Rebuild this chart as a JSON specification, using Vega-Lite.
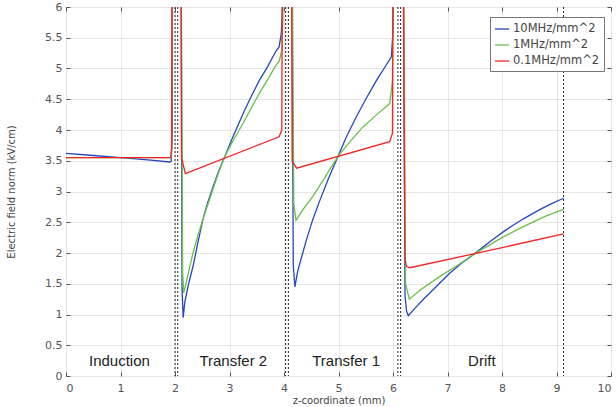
{
  "$schema": "https://vega.github.io/schema/vega-lite/v6.json",
  "width": 545,
  "height": 369,
  "autosize": "none",
  "padding": {"left": 66, "top": 7, "right": 5, "bottom": 31},
  "background": "white",
  "config": {
    "font": "DejaVu Sans",
    "view": {"stroke": "#444", "strokeWidth": 1},
    "axis": {"labelFont": "DejaVu Sans", "labelFontSize": 11, "labelColor": "#555", "titleFont": "DejaVu Sans", "titleFontSize": 10, "titleColor": "#444", "titleFontWeight": "normal", "gridColor": "#e6e6e6", "domain": false, "tickColor": "#555"}
  },
  "datasets": {
    "curves": [
      {"z": 0, "E": 3.62, "s": "10MHz/mm^2"},
      {"z": 0.5, "E": 3.585, "s": "10MHz/mm^2"},
      {"z": 1, "E": 3.55, "s": "10MHz/mm^2"},
      {"z": 1.5, "E": 3.515, "s": "10MHz/mm^2"},
      {"z": 1.9, "E": 3.48, "s": "10MHz/mm^2"},
      {"z": 1.93, "E": 3.49, "s": "10MHz/mm^2"},
      {"z": 1.95, "E": 4.0, "s": "10MHz/mm^2"},
      {"z": 1.96, "E": 10, "s": "10MHz/mm^2"},
      {"z": 2.1, "E": 10, "s": "10MHz/mm^2"},
      {"z": 2.13, "E": 1.4, "s": "10MHz/mm^2"},
      {"z": 2.15, "E": 0.95, "s": "10MHz/mm^2"},
      {"z": 2.18, "E": 1.2, "s": "10MHz/mm^2"},
      {"z": 2.25, "E": 1.5, "s": "10MHz/mm^2"},
      {"z": 2.33, "E": 1.78, "s": "10MHz/mm^2"},
      {"z": 2.42, "E": 2.17, "s": "10MHz/mm^2"},
      {"z": 2.51, "E": 2.54, "s": "10MHz/mm^2"},
      {"z": 2.6, "E": 2.82, "s": "10MHz/mm^2"},
      {"z": 2.7, "E": 3.08, "s": "10MHz/mm^2"},
      {"z": 2.8, "E": 3.33, "s": "10MHz/mm^2"},
      {"z": 2.91, "E": 3.56, "s": "10MHz/mm^2"},
      {"z": 3.05, "E": 3.86, "s": "10MHz/mm^2"},
      {"z": 3.25, "E": 4.27, "s": "10MHz/mm^2"},
      {"z": 3.4, "E": 4.55, "s": "10MHz/mm^2"},
      {"z": 3.55, "E": 4.81, "s": "10MHz/mm^2"},
      {"z": 3.7, "E": 5.03, "s": "10MHz/mm^2"},
      {"z": 3.85, "E": 5.28, "s": "10MHz/mm^2"},
      {"z": 3.91, "E": 5.35, "s": "10MHz/mm^2"},
      {"z": 3.95, "E": 5.57, "s": "10MHz/mm^2"},
      {"z": 3.97, "E": 5.9, "s": "10MHz/mm^2"},
      {"z": 3.99, "E": 10, "s": "10MHz/mm^2"},
      {"z": 4.13, "E": 10, "s": "10MHz/mm^2"},
      {"z": 4.17, "E": 1.8, "s": "10MHz/mm^2"},
      {"z": 4.2, "E": 1.45, "s": "10MHz/mm^2"},
      {"z": 4.25, "E": 1.7, "s": "10MHz/mm^2"},
      {"z": 4.41, "E": 2.21, "s": "10MHz/mm^2"},
      {"z": 4.53, "E": 2.55, "s": "10MHz/mm^2"},
      {"z": 4.66, "E": 2.86, "s": "10MHz/mm^2"},
      {"z": 4.82, "E": 3.22, "s": "10MHz/mm^2"},
      {"z": 4.99, "E": 3.57, "s": "10MHz/mm^2"},
      {"z": 5.15, "E": 3.9, "s": "10MHz/mm^2"},
      {"z": 5.33, "E": 4.22, "s": "10MHz/mm^2"},
      {"z": 5.5, "E": 4.5, "s": "10MHz/mm^2"},
      {"z": 5.7, "E": 4.81, "s": "10MHz/mm^2"},
      {"z": 5.85, "E": 5.02, "s": "10MHz/mm^2"},
      {"z": 5.97, "E": 5.19, "s": "10MHz/mm^2"},
      {"z": 6.0, "E": 5.6, "s": "10MHz/mm^2"},
      {"z": 6.02, "E": 10, "s": "10MHz/mm^2"},
      {"z": 6.17, "E": 10, "s": "10MHz/mm^2"},
      {"z": 6.22, "E": 1.3, "s": "10MHz/mm^2"},
      {"z": 6.25, "E": 1.05, "s": "10MHz/mm^2"},
      {"z": 6.28, "E": 0.98, "s": "10MHz/mm^2"},
      {"z": 6.4, "E": 1.1, "s": "10MHz/mm^2"},
      {"z": 6.55, "E": 1.24, "s": "10MHz/mm^2"},
      {"z": 6.8, "E": 1.46, "s": "10MHz/mm^2"},
      {"z": 7.04, "E": 1.67, "s": "10MHz/mm^2"},
      {"z": 7.25, "E": 1.83, "s": "10MHz/mm^2"},
      {"z": 7.5, "E": 1.99, "s": "10MHz/mm^2"},
      {"z": 7.8, "E": 2.2, "s": "10MHz/mm^2"},
      {"z": 8.08, "E": 2.38, "s": "10MHz/mm^2"},
      {"z": 8.4, "E": 2.56, "s": "10MHz/mm^2"},
      {"z": 8.7, "E": 2.71, "s": "10MHz/mm^2"},
      {"z": 8.9, "E": 2.8, "s": "10MHz/mm^2"},
      {"z": 9.13, "E": 2.89, "s": "10MHz/mm^2"},

      {"z": 0, "E": 3.55, "s": "1MHz/mm^2"},
      {"z": 1, "E": 3.55, "s": "1MHz/mm^2"},
      {"z": 1.93, "E": 3.55, "s": "1MHz/mm^2"},
      {"z": 1.94, "E": 3.7, "s": "1MHz/mm^2"},
      {"z": 1.96, "E": 10, "s": "1MHz/mm^2"},
      {"z": 2.1, "E": 10, "s": "1MHz/mm^2"},
      {"z": 2.14, "E": 1.7, "s": "1MHz/mm^2"},
      {"z": 2.16, "E": 1.35, "s": "1MHz/mm^2"},
      {"z": 2.2, "E": 1.5, "s": "1MHz/mm^2"},
      {"z": 2.33, "E": 2.0, "s": "1MHz/mm^2"},
      {"z": 2.42, "E": 2.28, "s": "1MHz/mm^2"},
      {"z": 2.51, "E": 2.54, "s": "1MHz/mm^2"},
      {"z": 2.6, "E": 2.78, "s": "1MHz/mm^2"},
      {"z": 2.7, "E": 3.05, "s": "1MHz/mm^2"},
      {"z": 2.8, "E": 3.31, "s": "1MHz/mm^2"},
      {"z": 2.91, "E": 3.56, "s": "1MHz/mm^2"},
      {"z": 3.05, "E": 3.8, "s": "1MHz/mm^2"},
      {"z": 3.25, "E": 4.11, "s": "1MHz/mm^2"},
      {"z": 3.4, "E": 4.36, "s": "1MHz/mm^2"},
      {"z": 3.55, "E": 4.6, "s": "1MHz/mm^2"},
      {"z": 3.7, "E": 4.82, "s": "1MHz/mm^2"},
      {"z": 3.85, "E": 5.05, "s": "1MHz/mm^2"},
      {"z": 3.91, "E": 5.11, "s": "1MHz/mm^2"},
      {"z": 3.96, "E": 5.3, "s": "1MHz/mm^2"},
      {"z": 3.98, "E": 5.8, "s": "1MHz/mm^2"},
      {"z": 3.99, "E": 10, "s": "1MHz/mm^2"},
      {"z": 4.13, "E": 10, "s": "1MHz/mm^2"},
      {"z": 4.18, "E": 2.8, "s": "1MHz/mm^2"},
      {"z": 4.22, "E": 2.53, "s": "1MHz/mm^2"},
      {"z": 4.35, "E": 2.71, "s": "1MHz/mm^2"},
      {"z": 4.53, "E": 2.92, "s": "1MHz/mm^2"},
      {"z": 4.75, "E": 3.23, "s": "1MHz/mm^2"},
      {"z": 4.99, "E": 3.57, "s": "1MHz/mm^2"},
      {"z": 5.2, "E": 3.8, "s": "1MHz/mm^2"},
      {"z": 5.45, "E": 4.05, "s": "1MHz/mm^2"},
      {"z": 5.7, "E": 4.25, "s": "1MHz/mm^2"},
      {"z": 5.94, "E": 4.43, "s": "1MHz/mm^2"},
      {"z": 5.99, "E": 4.8, "s": "1MHz/mm^2"},
      {"z": 6.02, "E": 10, "s": "1MHz/mm^2"},
      {"z": 6.17, "E": 10, "s": "1MHz/mm^2"},
      {"z": 6.23, "E": 1.5, "s": "1MHz/mm^2"},
      {"z": 6.3, "E": 1.25, "s": "1MHz/mm^2"},
      {"z": 6.5, "E": 1.4, "s": "1MHz/mm^2"},
      {"z": 6.86, "E": 1.62, "s": "1MHz/mm^2"},
      {"z": 7.2, "E": 1.81, "s": "1MHz/mm^2"},
      {"z": 7.5, "E": 1.99, "s": "1MHz/mm^2"},
      {"z": 8.0, "E": 2.25, "s": "1MHz/mm^2"},
      {"z": 8.39, "E": 2.43, "s": "1MHz/mm^2"},
      {"z": 8.8, "E": 2.6, "s": "1MHz/mm^2"},
      {"z": 9.13, "E": 2.71, "s": "1MHz/mm^2"},

      {"z": 0, "E": 3.55, "s": "0.1MHz/mm^2"},
      {"z": 1, "E": 3.55, "s": "0.1MHz/mm^2"},
      {"z": 1.92, "E": 3.55, "s": "0.1MHz/mm^2"},
      {"z": 1.94, "E": 3.7, "s": "0.1MHz/mm^2"},
      {"z": 1.95, "E": 10, "s": "0.1MHz/mm^2"},
      {"z": 2.1, "E": 10, "s": "0.1MHz/mm^2"},
      {"z": 2.12, "E": 3.55, "s": "0.1MHz/mm^2"},
      {"z": 2.19, "E": 3.29, "s": "0.1MHz/mm^2"},
      {"z": 3.91, "E": 3.89, "s": "0.1MHz/mm^2"},
      {"z": 3.96, "E": 4.0, "s": "0.1MHz/mm^2"},
      {"z": 3.98, "E": 10, "s": "0.1MHz/mm^2"},
      {"z": 4.13, "E": 10, "s": "0.1MHz/mm^2"},
      {"z": 4.15, "E": 3.5, "s": "0.1MHz/mm^2"},
      {"z": 4.23, "E": 3.38, "s": "0.1MHz/mm^2"},
      {"z": 5.94, "E": 3.81, "s": "0.1MHz/mm^2"},
      {"z": 5.99, "E": 3.95, "s": "0.1MHz/mm^2"},
      {"z": 6.01, "E": 10, "s": "0.1MHz/mm^2"},
      {"z": 6.17, "E": 10, "s": "0.1MHz/mm^2"},
      {"z": 6.22, "E": 1.9, "s": "0.1MHz/mm^2"},
      {"z": 6.25, "E": 1.78, "s": "0.1MHz/mm^2"},
      {"z": 6.31, "E": 1.76, "s": "0.1MHz/mm^2"},
      {"z": 7.5, "E": 1.99, "s": "0.1MHz/mm^2"},
      {"z": 9.13, "E": 2.31, "s": "0.1MHz/mm^2"}
    ],
    "bounds": [
      {"z": 2.0}, {"z": 2.05}, {"z": 4.03}, {"z": 4.08}, {"z": 6.09}, {"z": 6.14}, {"z": 9.13}
    ],
    "regions": [
      {"z": 0.98, "E": 0.16, "name": "Induction"},
      {"z": 3.07, "E": 0.16, "name": "Transfer 2"},
      {"z": 5.14, "E": 0.16, "name": "Transfer 1"},
      {"z": 7.63, "E": 0.16, "name": "Drift"}
    ]
  },
  "resolve": {"axis": {"x": "independent", "y": "independent"}},
  "layer": [
    {
      "data": {"name": "curves"},
      "mark": {"type": "line", "clip": true, "strokeWidth": 1.3},
      "encoding": {
        "x": {"field": "z", "type": "quantitative", "scale": {"domain": [0, 10], "nice": false},
              "axis": {"orient": "bottom", "title": "z-coordinate (mm)", "values": [0,1,2,3,4,5,6,7,8,9,10], "tickSize": -4, "labelPadding": 10, "titlePadding": 2, "format": "d"}},
        "y": {"field": "E", "type": "quantitative", "scale": {"domain": [0, 6], "nice": false, "zero": false},
              "axis": {"orient": "left", "title": "Electric field norm (kV/cm)", "values": [0,0.5,1,1.5,2,2.5,3,3.5,4,4.5,5,5.5,6], "tickSize": -4, "labelPadding": 8, "format": "~g", "titlePadding": 28}},
        "color": {"field": "s", "type": "nominal",
                  "scale": {"domain": ["10MHz/mm^2", "1MHz/mm^2", "0.1MHz/mm^2"], "range": ["#2547bd", "#68c24a", "#f52222"]},
                  "legend": {"title": null, "orient": "none", "legendX": 424, "legendY": 10, "fillColor": "white", "strokeColor": "#777", "padding": 4, "symbolType": "stroke", "symbolSize": 200, "symbolStrokeWidth": 1.3, "labelFontSize": 11.5, "labelFont": "DejaVu Sans", "labelColor": "#444", "rowPadding": 2, "cornerRadius": 0, "labelOffset": 3}},
        "order": {"field": "z", "type": "quantitative"}
      }
    },
    {
      "data": {"name": "bounds"},
      "mark": {"type": "rule", "color": "#222", "strokeDash": [2, 2], "strokeWidth": 1},
      "encoding": {
        "x": {"field": "z", "type": "quantitative",
              "axis": {"orient": "top", "labels": false, "title": null, "grid": false, "values": [0,1,2,3,4,5,6,7,8,9,10], "tickSize": -4, "labelPadding": 0}}
      }
    },
    {
      "data": {"name": "bounds"},
      "mark": {"type": "rule", "opacity": 0},
      "encoding": {
        "y": {"datum": 0, "type": "quantitative",
              "axis": {"orient": "right", "labels": false, "title": null, "grid": false, "values": [0,0.5,1,1.5,2,2.5,3,3.5,4,4.5,5,5.5,6], "tickSize": -4}}
      }
    },
    {
      "data": {"name": "regions"},
      "mark": {"type": "text", "font": "Liberation Sans", "fontSize": 15, "color": "#222", "baseline": "alphabetic", "align": "center"},
      "encoding": {
        "x": {"field": "z", "type": "quantitative", "axis": null},
        "y": {"field": "E", "type": "quantitative", "axis": null},
        "text": {"field": "name"}
      }
    }
  ]
}
